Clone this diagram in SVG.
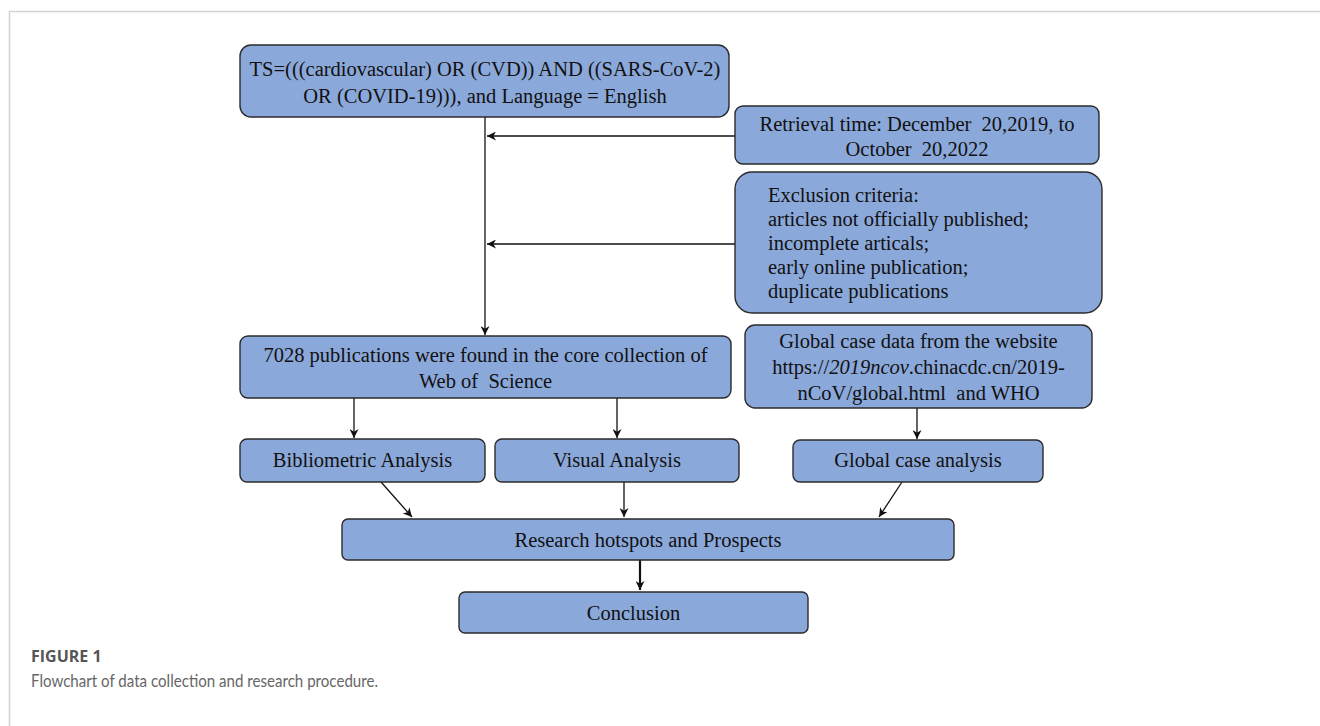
<svg xmlns="http://www.w3.org/2000/svg" width="1320" height="726" viewBox="0 0 1320 726">
<style>
.box{fill:#8ba8da;stroke:#2b2b2b;stroke-width:1.4}
.t{font-family:"Liberation Serif","Times New Roman",serif;font-size:20.5px;fill:#111;text-anchor:middle;white-space:pre}
.tl{font-family:"Liberation Serif","Times New Roman",serif;font-size:20.5px;fill:#111;white-space:pre}
.c{stroke:#111;stroke-width:1.3;fill:none;marker-end:url(#ah)}
.cap1{font-family:"Open Sans","Noto Sans",sans-serif;font-size:16px;font-weight:bold;fill:#555}
.cap2{font-family:Lato,"Open Sans",sans-serif;font-size:16.5px;fill:#666}
</style>
<defs>
<marker id="ah" viewBox="0 0 10 10" refX="10" refY="5" markerWidth="9" markerHeight="9" markerUnits="userSpaceOnUse" orient="auto">
<path d="M0,0 L10,5 L0,10 L3,5 z" fill="#111"/>
</marker>
</defs>
<rect width="1320" height="726" fill="#fff"/>
<path d="M9.5,726 V11.5 H1320" fill="none" stroke="#d4d4d4" stroke-width="1.5"/>

<g id="connectors">
<line class="c" x1="485" y1="117" x2="485" y2="335"/>
<line class="c" x1="735" y1="136" x2="487" y2="136"/>
<line class="c" x1="735" y1="244" x2="487" y2="244"/>
<line class="c" x1="354" y1="398" x2="354" y2="438"/>
<line class="c" x1="617" y1="398" x2="617" y2="438"/>
<line class="c" x1="917" y1="408" x2="917" y2="439"/>
<line class="c" x1="381" y1="482" x2="412" y2="517"/>
<line class="c" x1="624" y1="482" x2="624" y2="517"/>
<line class="c" x1="902" y1="482" x2="879" y2="517"/>
<line class="c" x1="640" y1="560" x2="640" y2="590" style="stroke-width:2.2"/>
</g>

<g id="n_query">
<rect class="box" x="240" y="45" width="489" height="72" rx="11"/>
<text class="t" x="485" y="76">TS=(((cardiovascular) OR (CVD)) AND ((SARS-CoV-2)</text>
<text class="t" x="485" y="103">OR (COVID-19))), and Language = English</text>
</g>

<g id="n_retrieval">
<rect class="box" x="735" y="106" width="364" height="58" rx="8"/>
<text class="t" x="917" y="131">Retrieval time: December  20,2019, to</text>
<text class="t" x="917" y="156">October  20,2022</text>
</g>

<g id="n_exclusion">
<rect class="box" x="735" y="172" width="367" height="141" rx="17"/>
<text class="tl" x="768" y="202">Exclusion criteria:</text>
<text class="tl" x="768" y="226">articles not officially published;</text>
<text class="tl" x="768" y="250">incomplete articals;</text>
<text class="tl" x="768" y="274">early online publication;</text>
<text class="tl" x="768" y="298">duplicate publications</text>
</g>

<g id="n_pubs">
<rect class="box" x="240" y="336" width="491" height="62" rx="8"/>
<text class="t" x="485.5" y="362">7028 publications were found in the core collection of</text>
<text class="t" x="485.5" y="388">Web of  Science</text>
</g>

<g id="n_global_data">
<rect class="box" x="745" y="325" width="347" height="83" rx="10"/>
<text class="t" x="918.5" y="348">Global case data from the website</text>
<text class="t" x="918.5" y="374">https://<tspan font-style="italic">2019ncov</tspan>.chinacdc.cn/2019-</text>
<text class="t" x="918.5" y="400">nCoV/global.html  and WHO</text>
</g>

<g id="n_biblio">
<rect class="box" x="240" y="439" width="245" height="43" rx="7"/>
<text class="t" x="362.5" y="467">Bibliometric Analysis</text>
</g>

<g id="n_visual">
<rect class="box" x="495" y="439" width="244" height="43" rx="7"/>
<text class="t" x="617" y="467">Visual Analysis</text>
</g>

<g id="n_global_case">
<rect class="box" x="793" y="440" width="250" height="42" rx="7"/>
<text class="t" x="918" y="467">Global case analysis</text>
</g>

<g id="n_research">
<rect class="box" x="342" y="519" width="612" height="41" rx="6"/>
<text class="t" x="648" y="547">Research hotspots and Prospects</text>
</g>

<g id="n_conclusion">
<rect class="box" x="459" y="592" width="349" height="41" rx="6"/>
<text class="t" x="633.5" y="620">Conclusion</text>
</g>

<text class="cap1" x="31" y="662">FIGURE 1</text>
<text class="cap2" x="31" y="687" textLength="347" lengthAdjust="spacingAndGlyphs">Flowchart of data collection and research procedure.</text>
</svg>
